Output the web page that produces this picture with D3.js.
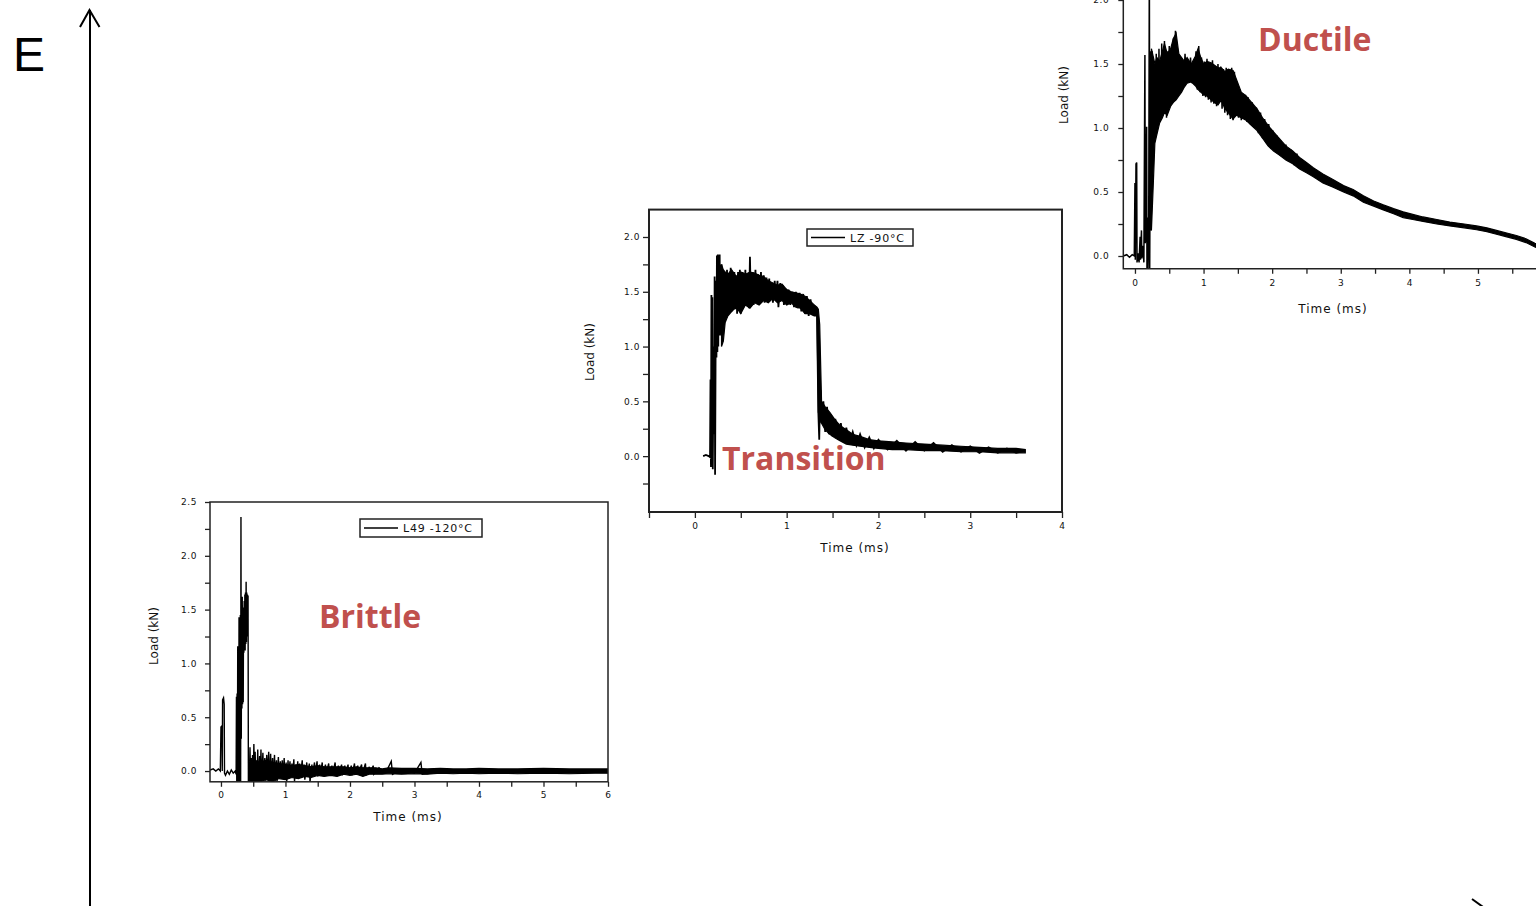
<!DOCTYPE html>
<html><head><meta charset="utf-8">
<script src="https://cdn.jsdelivr.net/npm/d3@7"></script>
<style>body{margin:0;background:#fff;overflow:hidden}svg{display:block}</style>
</head><body>
<svg id="c" width="1536" height="906"></svg>
<script>
// ---------------- DATA ----------------
// Brittle (L49 -120°C): [time ms, load kN]
const brittleTrace = [
[-0.17,0.01],[-0.12,0.02],[-0.08,0.0],[-0.04,0.02],[-0.01,0.0],[0.0,0.41],[0.015,0.42],[0.02,0.0],[0.025,0.66],[0.04,0.68],[0.05,0.62],[0.055,-0.02],
[0.07,-0.04],[0.1,0.0],[0.13,-0.03],[0.16,0.01],[0.19,-0.02],[0.22,0.0],[0.235,-0.03],[0.24,0.69],[0.245,-0.1],[0.25,0.72],[0.255,0.0],[0.26,1.16],
[0.265,-0.1],[0.27,1.15],[0.275,0.1],[0.28,1.43],[0.285,-0.1],[0.29,1.42],[0.295,0.2],[0.30,1.45],[0.305,-0.1],[0.31,2.36],[0.315,0.3],[0.32,1.6],
[0.325,0.58],[0.33,1.62],[0.335,0.62],[0.34,1.52],[0.345,0.64],[0.35,1.5],[0.355,1.1],[0.36,1.58],[0.365,1.13],[0.37,1.64],[0.375,1.12],[0.38,1.66],
[0.385,1.18],[0.39,1.76],[0.395,1.2],[0.40,1.66],[0.405,1.25],[0.41,1.64],[0.415,1.3],[0.42,1.63],[0.425,-0.1],[0.43,0.05],
[0.44,-0.1],[0.45,0.22],[0.46,-0.1],[0.47,0.12],[0.48,-0.08],[0.49,0.15],[0.50,-0.1],[0.51,0.25],[0.52,-0.06],[0.53,0.18],[0.54,-0.1],[0.55,0.1],
[0.56,-0.08],[0.57,0.2],[0.58,-0.1],[0.60,0.14],[0.61,-0.07],[0.62,0.2],[0.63,-0.1],[0.65,0.17],[0.66,-0.05],[0.68,0.12],[0.69,-0.09],[0.71,0.15],
[0.72,-0.06],[0.74,0.18],[0.75,-0.1],[0.77,0.16],[0.78,-0.05],[0.80,0.12],[0.81,-0.08],[0.83,0.15],[0.84,-0.05],[0.86,0.1],[0.87,-0.1],[0.89,0.13],
[0.90,-0.04],[0.92,0.09],[0.93,-0.06],[0.95,0.1],[0.96,-0.05],[0.98,0.12],[0.99,-0.08],[1.01,0.08],[1.02,-0.1],[1.04,0.1],[1.05,-0.05],[1.07,0.09],
[1.08,-0.06],[1.10,0.07],[1.11,-0.04],[1.13,0.11],[1.14,-0.1],[1.16,0.06],[1.17,-0.07],[1.19,0.09],[1.20,-0.03],[1.22,0.07],[1.23,-0.05],[1.26,0.1],
[1.27,-0.04],[1.29,0.06],[1.30,-0.08],[1.33,0.08],[1.34,-0.03],[1.37,0.07],[1.38,-0.1],[1.41,0.06],[1.42,-0.04],[1.45,0.08],[1.46,-0.03],[1.49,0.09],
[1.50,-0.05],[1.53,0.06],[1.54,-0.03],[1.57,0.08],[1.58,-0.04],[1.62,0.06],[1.63,-0.03],[1.67,0.07],[1.68,-0.04],[1.72,0.05],[1.73,-0.03],[1.77,0.08],
[1.78,-0.04],[1.82,0.05],[1.83,-0.02],[1.87,0.06],[1.88,-0.04],[1.92,0.05],[1.93,-0.03],[1.97,0.06],[1.98,-0.03],[2.02,0.05],[2.03,-0.04],[2.07,0.07],
[2.08,-0.03],[2.12,0.05],[2.13,-0.02],[2.18,0.06],[2.19,-0.03],[2.24,0.07],[2.25,-0.04],[2.30,0.04],[2.31,-0.02],[2.36,0.05],[2.37,-0.03],[2.45,0.03],
[2.55,-0.02],[2.64,0.09],[2.66,-0.03],[2.8,0.02],[3.0,-0.02],[3.1,0.08],[3.12,-0.03],[3.5,0.0],[4.0,0.0],[5.0,0.0],[6.0,0.0]
];
// Brittle noise envelope: [time ms, low kN, high kN]
const brittleBand = [
[0.43,-0.1,0.05],[0.5,-0.1,0.1],[0.6,-0.1,0.08],[0.7,-0.08,0.1],[0.8,-0.1,0.08],[0.9,-0.07,0.07],[1.0,-0.08,0.06],[1.1,-0.06,0.05],
[1.2,-0.07,0.06],[1.3,-0.05,0.05],[1.4,-0.06,0.04],[1.5,-0.04,0.05],[1.6,-0.05,0.04],[1.7,-0.04,0.04],[1.8,-0.05,0.04],[1.9,-0.03,0.04],
[2.0,-0.04,0.03],[2.1,-0.03,0.04],[2.2,-0.05,0.03],[2.3,-0.03,0.03],[2.4,-0.03,0.03],[2.5,-0.03,0.02],[2.6,-0.025,0.03],[2.8,-0.03,0.025],
[3.0,-0.025,0.025],[3.2,-0.03,0.02],[3.4,-0.02,0.025],[3.6,-0.025,0.02],[3.8,-0.02,0.02],[4.0,-0.025,0.025],[4.3,-0.02,0.02],[4.6,-0.025,0.02],
[5.0,-0.02,0.025],[5.4,-0.025,0.02],[5.8,-0.02,0.02],[6.0,-0.02,0.02]
];

// Transition (LZ -90°C)
const transitionTrace = [
[0.09,0.0],[0.12,0.01],[0.15,0.0],[0.165,-0.01],[0.17,0.7],[0.175,-0.1],[0.18,1.47],[0.185,0.3],[0.19,1.45],[0.195,-0.12],[0.2,0.5],[0.205,1.0],
[0.21,0.2],[0.215,1.64],[0.22,-0.17],[0.225,0.8],[0.23,1.6],[0.235,0.9],[0.24,1.83],[0.245,0.95],[0.25,1.84],[0.255,1.0],[0.26,1.8],[0.265,1.1],
[0.27,1.84],[0.275,1.2],[0.28,1.7],[0.285,1.1],[0.29,1.75],[0.30,1.25],[0.31,1.7],[0.32,1.25],[0.33,1.66],[0.34,1.3],[0.35,1.7],[0.36,1.3],
[0.37,1.62],[0.38,1.34],[0.39,1.72],[0.40,1.32],[0.41,1.65],[0.42,1.38],[0.43,1.68],[0.44,1.34],[0.45,1.64],[0.46,1.3],[0.47,1.68],[0.48,1.36],
[0.49,1.7],[0.50,1.3],[0.52,1.68],[0.53,1.36],[0.55,1.7],[0.56,1.38],[0.58,1.66],[0.59,1.35],[0.60,1.82],[0.61,1.4],[0.63,1.68],[0.64,1.38],
[0.66,1.7],[0.67,1.4],[0.69,1.66],[0.70,1.38],[0.72,1.68],[0.73,1.42],[0.75,1.65],[0.76,1.4],[0.78,1.63],[0.79,1.42],[0.81,1.62],[0.82,1.44],
[0.84,1.58],[0.85,1.4],[0.87,1.6],[0.88,1.42],[0.90,1.6],[0.91,1.36],[0.93,1.58],[0.94,1.42],[0.96,1.56],[0.97,1.38],[0.99,1.53],[1.00,1.4],
[1.02,1.52],[1.04,1.38],[1.06,1.5],[1.08,1.36],[1.10,1.5],[1.12,1.35],[1.14,1.49],[1.16,1.32],[1.18,1.48],[1.20,1.3],[1.22,1.46],[1.24,1.28],
[1.26,1.43],[1.28,1.3],[1.30,1.38],[1.32,1.3],[1.33,1.35],[1.345,0.4],[1.355,0.15],[1.36,0.4],[1.37,0.6],[1.38,0.3],[1.40,0.5],[1.42,0.22],
[1.44,0.45],[1.46,0.2],[1.48,0.38],[1.50,0.18],[1.53,0.34],[1.56,0.15],[1.59,0.3],[1.62,0.13],[1.65,0.26],[1.68,0.11],[1.72,0.22],[1.76,0.1],
[1.80,0.2],[1.85,0.08],[1.90,0.17],[1.95,0.07],[2.0,0.15],[2.1,0.06],[2.2,0.14],[2.3,0.05],[2.4,0.13],[2.5,0.05],[2.6,0.12],[2.7,0.04],
[2.8,0.1],[2.9,0.04],[3.0,0.09],[3.1,0.03],[3.2,0.08],[3.3,0.03],[3.4,0.07],[3.5,0.03],[3.6,0.05]
];
const transitionBand = [
[0.29,1.0,1.75],[0.31,1.05,1.7],[0.33,1.22,1.68],[0.36,1.28,1.66],[0.40,1.32,1.7],[0.45,1.36,1.64],[0.50,1.30,1.68],[0.55,1.38,1.66],
[0.60,1.35,1.68],[0.65,1.40,1.67],[0.70,1.38,1.65],[0.75,1.42,1.64],[0.80,1.40,1.60],[0.85,1.44,1.58],[0.90,1.40,1.56],[0.95,1.42,1.57],
[1.00,1.38,1.52],[1.05,1.40,1.50],[1.10,1.36,1.49],[1.15,1.35,1.48],[1.20,1.30,1.46],[1.25,1.30,1.42],[1.30,1.28,1.38],[1.33,1.28,1.36],
[1.345,0.40,1.34],[1.36,0.34,1.2],[1.38,0.30,0.5],[1.42,0.24,0.45],[1.47,0.20,0.40],[1.52,0.17,0.34],[1.58,0.14,0.28],[1.65,0.11,0.24],
[1.72,0.10,0.20],[1.80,0.09,0.18],[1.90,0.08,0.15],[2.00,0.07,0.14],[2.15,0.06,0.13],[2.30,0.06,0.12],[2.50,0.05,0.11],[2.70,0.05,0.10],
[2.90,0.04,0.09],[3.10,0.04,0.08],[3.30,0.03,0.07],[3.50,0.03,0.07],[3.60,0.03,0.06]
];

// Ductile
const ductileTrace = [
[-0.17,0.0],[-0.12,0.01],[-0.08,-0.01],[-0.04,0.01],[-0.01,0.0],[0.0,0.57],[0.005,-0.03],[0.015,0.72],[0.025,0.73],[0.03,-0.05],[0.045,0.02],
[0.06,-0.05],[0.075,0.15],[0.08,-0.03],[0.095,0.2],[0.1,-0.02],[0.115,0.08],[0.13,-0.05],[0.145,1.57],[0.15,0.1],[0.16,0.16],[0.17,1.01],
[0.175,-0.1],[0.185,0.3],[0.19,-0.1],[0.2,0.15],[0.21,2.4],[0.215,-0.1],[0.22,0.6],[0.225,1.6],[0.23,0.2],[0.235,1.55],[0.24,0.7],[0.25,1.6],
[0.26,0.8],[0.27,1.5],[0.28,0.88],[0.29,1.5],[0.3,0.95],[0.31,1.58],[0.32,1.0],[0.33,1.45],[0.34,1.02],[0.35,1.62],[0.36,1.05],[0.37,1.5],
[0.38,1.1],[0.39,1.66],[0.40,1.12],[0.41,1.5],[0.42,1.15],[0.43,1.68],[0.44,1.2],[0.45,1.52],[0.46,1.08],[0.47,1.6],[0.48,1.2],[0.5,1.64],
[0.51,1.25],[0.53,1.58],[0.54,1.2],[0.56,1.7],[0.57,1.28],[0.59,1.76],[0.60,1.3],[0.62,1.6],[0.63,1.3],[0.65,1.56],[0.67,1.32],[0.69,1.54],
[0.71,1.35],[0.73,1.58],[0.75,1.36],[0.77,1.52],[0.79,1.38],[0.81,1.55],[0.83,1.35],[0.85,1.5],[0.87,1.34],[0.89,1.6],[0.91,1.3],[0.93,1.64],
[0.95,1.28],[0.97,1.55],[0.99,1.25],[1.01,1.52],[1.03,1.24],[1.05,1.54],[1.07,1.22],[1.09,1.5],[1.11,1.2],[1.13,1.53],[1.15,1.19],[1.17,1.48],
[1.19,1.17],[1.21,1.5],[1.23,1.2],[1.25,1.48],[1.27,1.15],[1.29,1.46],[1.31,1.12],[1.33,1.47],[1.35,1.1],[1.37,1.46],[1.39,1.07],[1.41,1.47],
[1.43,1.06],[1.45,1.44],[1.47,1.1],[1.49,1.36],[1.51,1.08],[1.53,1.3],[1.55,1.06],[1.57,1.27],[1.59,1.07],[1.61,1.26],[1.63,1.05],[1.65,1.24],
[1.68,1.03],[1.71,1.2],[1.74,1.0],[1.77,1.16],[1.80,0.96],[1.83,1.12],[1.86,0.92],[1.89,1.07],[1.92,0.88],[1.95,1.03],[1.98,0.84],[2.01,0.98],
[2.04,0.82],[2.07,0.94],[2.1,0.79],[2.13,0.9],[2.16,0.77],[2.2,0.87],[2.24,0.74],[2.28,0.83],[2.32,0.71],[2.36,0.8],[2.4,0.68]
];
const ductileBand = [
[0.24,0.2,1.62],[0.27,0.6,1.55],[0.29,0.88,1.5],[0.32,0.95,1.55],[0.36,1.04,1.52],[0.40,1.08,1.6],[0.43,1.12,1.66],[0.47,1.10,1.58],
[0.52,1.17,1.62],[0.56,1.2,1.7],[0.60,1.22,1.74],[0.64,1.25,1.58],[0.68,1.28,1.55],[0.72,1.32,1.52],[0.76,1.35,1.55],[0.82,1.36,1.5],
[0.88,1.33,1.56],[0.92,1.30,1.62],[0.96,1.28,1.55],[1.00,1.26,1.50],[1.05,1.25,1.52],[1.11,1.22,1.51],[1.16,1.20,1.49],[1.21,1.18,1.47],
[1.26,1.22,1.47],[1.31,1.15,1.44],[1.36,1.12,1.46],[1.43,1.07,1.45],[1.48,1.10,1.38],[1.55,1.08,1.28],[1.62,1.06,1.25],[1.70,1.02,1.2],
[1.78,0.98,1.15],[1.86,0.92,1.08],[1.94,0.86,1.02],[2.02,0.82,0.97],[2.10,0.79,0.92],[2.20,0.75,0.86],[2.30,0.72,0.82],[2.40,0.68,0.77],
[2.50,0.65,0.73],[2.60,0.62,0.69],[2.74,0.57,0.64],[2.88,0.54,0.60],[3.04,0.50,0.55],[3.18,0.47,0.52],[3.33,0.42,0.47],[3.48,0.39,0.43],
[3.62,0.36,0.40],[3.77,0.33,0.37],[3.91,0.30,0.345],[4.05,0.285,0.325],[4.20,0.27,0.305],[4.40,0.25,0.285],[4.59,0.235,0.265],
[4.80,0.22,0.25],[4.98,0.205,0.235],[5.13,0.19,0.22],[5.27,0.17,0.2],[5.42,0.15,0.18],[5.56,0.13,0.16],[5.70,0.105,0.135],
[5.83,0.07,0.10],[5.95,0.05,0.08]
];

// Ticks
const brittleXMajor = [0,1,2,3,4,5,6], brittleXMinor = [0.5,1.5,2.5,3.5,4.5,5.5];
const brittleYMajor = [0,0.5,1,1.5,2,2.5], brittleYMinor = [0.25,0.75,1.25,1.75,2.25];
const transXMajor = [0,1,2,3,4], transXMinor = [-0.5,0.5,1.5,2.5,3.5];
const transYMajor = [0,0.5,1,1.5,2], transYMinor = [-0.25,0.25,0.75,1.25,1.75];
const ductXMajor = [0,1,2,3,4,5], ductXMinor = [0.5,1.5,2.5,3.5,4.5,5.5];
const ductYMajor = [0,0.5,1,1.5,2], ductYMinor = [0.25,0.75,1.25,1.75];

const legendLabels = ["L49 -120°C", "LZ -90°C"];
const regimeLabels = ["Brittle", "Transition", "Ductile"];
const axisTitleX = "Time (ms)", axisTitleY = "Load (kN)";

// ---------------- DRAW ----------------
const svg = d3.select("#c");
const RED = "#C0504D";

function panel(cfg) {
  const x = d3.scaleLinear().domain(cfg.xDomain).range(cfg.xRange);
  const y = d3.scaleLinear().domain(cfg.yDomain).range(cfg.yRange);
  const g = svg.append("g");
  const id = "clip" + cfg.name;
  svg.append("clipPath").attr("id", id).append("rect")
    .attr("x", cfg.xRange[0]).attr("y", cfg.yRange[1])
    .attr("width", cfg.xRange[1] - cfg.xRange[0]).attr("height", cfg.yRange[0] - cfg.yRange[1]);
  const plot = g.append("g").attr("clip-path", `url(#${id})`);
  plot.append("path").datum(cfg.band)
    .attr("d", d3.area().x(d => x(d[0])).y0(d => y(d[1])).y1(d => y(d[2])))
    .attr("fill", "#000").attr("stroke", "#000").attr("stroke-width", 1.2).attr("stroke-linejoin", "miter");
  plot.append("path").datum(cfg.trace)
    .attr("d", d3.line().x(d => x(d[0])).y(d => y(d[1])))
    .attr("fill", "none").attr("stroke", "#000").attr("stroke-width", cfg.lw);

  const fmt = d3.format(".1f");
  const yAx = g.append("g").attr("transform", `translate(${cfg.xRange[0]},0)`)
    .call(d3.axisLeft(y).tickValues(cfg.yMajor).tickFormat(fmt).tickSize(cfg.tick).tickPadding(cfg.ypad));
  const yAxm = g.append("g").attr("transform", `translate(${cfg.xRange[0]},0)`)
    .call(d3.axisLeft(y).tickValues(cfg.yMinor).tickFormat("").tickSize(cfg.tick));
  const xAx = g.append("g").attr("transform", `translate(0,${cfg.yRange[0]})`)
    .call(d3.axisBottom(x).tickValues(cfg.xMajor).tickFormat(d3.format("d")).tickSize(cfg.tick).tickPadding(cfg.xpad));
  const xAxm = g.append("g").attr("transform", `translate(0,${cfg.yRange[0]})`)
    .call(d3.axisBottom(x).tickValues(cfg.xMinor).tickFormat("").tickSize(cfg.tick));
  [yAx, yAxm, xAx, xAxm].forEach(a => {
    a.select(".domain").remove();
    a.selectAll("line").attr("stroke", "#222").attr("stroke-width", 1.3);
    a.selectAll("text").attr("font-family", "DejaVu Sans").attr("font-size", 9)
      .attr("letter-spacing", 0.6).attr("fill", "#111");
  });
  if (cfg.fullBox) {
    g.append("rect").attr("x", cfg.xRange[0]).attr("y", cfg.yRange[1])
      .attr("width", cfg.xRange[1] - cfg.xRange[0]).attr("height", cfg.yRange[0] - cfg.yRange[1])
      .attr("fill", "none").attr("stroke", "#222").attr("stroke-width", cfg.bw);
  } else {
    g.append("path").attr("d", `M${cfg.xRange[0]},${cfg.yRange[1]}V${cfg.yRange[0]}H${cfg.xRange[1]}`)
      .attr("fill", "none").attr("stroke", "#222").attr("stroke-width", cfg.bw);
  }
  g.append("text").attr("x", cfg.xt[0]).attr("y", cfg.xt[1]).attr("text-anchor", "middle")
    .attr("font-family", "DejaVu Sans").attr("font-size", 12).attr("letter-spacing", 1).attr("fill", "#111")
    .text(axisTitleX);
  g.append("text").attr("transform", `translate(${cfg.yt[0]},${cfg.yt[1]}) rotate(-90)`).attr("text-anchor", "middle")
    .attr("font-family", "DejaVu Sans").attr("font-size", 12).attr("fill", "#111")
    .text(axisTitleY);
  if (cfg.legend) {
    const L = cfg.legend;
    g.append("rect").attr("x", L.x).attr("y", L.y).attr("width", L.w).attr("height", L.h)
      .attr("fill", "#fff").attr("stroke", "#222").attr("stroke-width", 1.5);
    g.append("line").attr("x1", L.x + 4).attr("x2", L.x + 38).attr("y1", L.y + L.h / 2).attr("y2", L.y + L.h / 2)
      .attr("stroke", "#000").attr("stroke-width", 1.3);
    g.append("text").attr("x", L.x + 43).attr("y", L.y + L.h / 2 + 4)
      .attr("font-family", "DejaVu Sans").attr("font-size", 11).attr("letter-spacing", 0.8).attr("fill", "#111")
      .text(L.text);
  }
  return g;
}

panel({name: "b", xDomain: [-0.17, 6], xRange: [210, 608], yDomain: [-0.1, 2.5], yRange: [781.8, 502],
  band: brittleBand, trace: brittleTrace, lw: 1.4, xMajor: brittleXMajor, xMinor: brittleXMinor,
  yMajor: brittleYMajor, yMinor: brittleYMinor, tick: 5, ypad: 8, xpad: 5, fullBox: true, bw: 1.5,
  xt: [408, 821], yt: [158, 636], legend: {x: 360, y: 519, w: 122, h: 18, text: legendLabels[0]}});

panel({name: "t", xDomain: [-0.5, 4], xRange: [649, 1062], yDomain: [-0.51, 2.25], yRange: [512, 209.6],
  band: transitionBand, trace: transitionTrace, lw: 1.8, xMajor: transXMajor, xMinor: transXMinor,
  yMajor: transYMajor, yMinor: transYMinor, tick: 6, ypad: 3, xpad: 5, fullBox: true, bw: 2,
  xt: [855, 552], yt: [594, 352], legend: {x: 807, y: 229, w: 106, h: 17, text: legendLabels[1]}});

panel({name: "d", xDomain: [-0.17, 6.25], xRange: [1123.3, 1563.7], yDomain: [-0.1, 2.25], yRange: [268.8, -32],
  band: ductileBand, trace: ductileTrace, lw: 1.5, xMajor: ductXMajor, xMinor: ductXMinor,
  yMajor: ductYMajor, yMinor: ductYMinor, tick: 5, ypad: 9, xpad: 6, fullBox: false, bw: 1.5,
  xt: [1333, 313], yt: [1068, 95], legend: null});

const regimePos = [[319, 628], [722, 470], [1258, 51]];
regimeLabels.forEach((t, i) => {
  svg.append("text").attr("x", regimePos[i][0]).attr("y", regimePos[i][1])
    .attr("font-family", "Open Sans").attr("font-weight", 700).attr("font-size", 32)
    .attr("fill", RED).text(t);
});

svg.append("path").attr("d", "M90,906V10").attr("stroke", "#000").attr("stroke-width", 2).attr("fill", "none");
svg.append("path").attr("d", "M80,27L89.5,10L99.5,27").attr("stroke", "#000").attr("stroke-width", 2).attr("fill", "none");
svg.append("path").attr("d", "M90,912H1490").attr("stroke", "#000").attr("stroke-width", 2).attr("fill", "none");
svg.append("path").attr("d", "M1472,899L1490,912").attr("stroke", "#000").attr("stroke-width", 2).attr("fill", "none");
svg.append("text").attr("x", 13).attr("y", 71).attr("font-family", "Liberation Sans").attr("font-size", 48)
  .attr("fill", "#000").text("E");
</script>
</body></html>
